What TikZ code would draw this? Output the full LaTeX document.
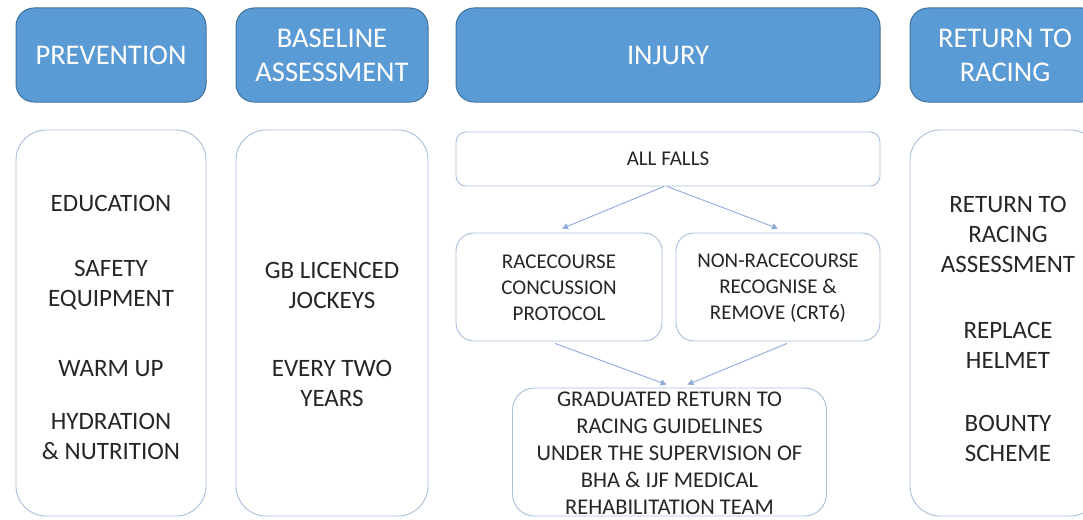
\documentclass[tikz,border=0pt]{standalone}
\usepackage{fontspec}
\setmainfont{Carlito}
\usetikzlibrary{arrows.meta}
\definecolor{hdrfill}{HTML}{5B9BD5}
\definecolor{hdrline}{HTML}{41719C}
\definecolor{boxline}{HTML}{A9BEDA}
\definecolor{arrowc}{HTML}{8EAADB}
\definecolor{txt}{HTML}{262626}
\begin{document}
\begin{tikzpicture}[x=1pt,y=-1pt,
  header/.style={draw=hdrline, line width=1pt, fill=hdrfill, rounded corners=18pt,
    text=white, align=center, font=\fontsize{28.5}{34}\selectfont, inner sep=0pt},
  panel/.style={draw=boxline, line width=0.9pt, fill=white, rounded corners=30pt, inner sep=0pt},
  subbox/.style={draw=boxline, line width=0.9pt, fill=white, rounded corners=18pt, inner sep=0pt},
  item/.style={text=txt, align=center, inner sep=0pt, font=\fontsize{25}{30}\selectfont},
  subtext/.style={text=txt, align=center, inner sep=0pt, font=\fontsize{21}{26}\selectfont},
  gradtext/.style={text=txt, align=center, inner sep=0pt, font=\fontsize{22.5}{27}\selectfont},
  conn/.style={draw=arrowc, line width=0.9pt, -{Triangle[length=6pt,width=6pt]}}
]
\useasboundingbox (0,0) rectangle (1083,519);
\clip (0,0) rectangle (1083,519);

% column headers
\node[header, minimum width=190pt, minimum height=94pt] (hprev) at (111,55) {PREVENTION};
\node[header, minimum width=192pt, minimum height=94pt] (hbase) at (332,55) {BASELINE\\ASSESSMENT};
\node[header, minimum width=424pt, minimum height=94pt] (hinj) at (668,55) {INJURY};
\node[header, minimum width=190pt, minimum height=94pt] (hret) at (1005,55) {RETURN TO\\RACING};

% column panels
\node[panel, minimum width=190pt, minimum height=386pt] (pprev) at (111,323) {};
\node[panel, minimum width=192pt, minimum height=386pt] (pbase) at (332,323) {};
\node[panel, minimum width=190pt, minimum height=386pt] (pret) at (1005,323) {};

% prevention items
\node[item] (edu) at (111,203) {EDUCATION};
\node[item] (safe) at (111,285) {SAFETY\\EQUIPMENT};
\node[item] (warm) at (111,369) {WARM UP};
\node[item] (hyd) at (111,436) {HYDRATION\\\& NUTRITION};

% baseline items
\node[item] (gb) at (332,285) {GB LICENCED\\JOCKEYS};
\node[item] (every) at (332,383) {EVERY TWO\\YEARS};

% return to racing items
\node[item] (rtr) at (1008,234) {RETURN TO\\RACING\\ASSESSMENT};
\node[item] (helm) at (1008,345) {REPLACE\\HELMET};
\node[item] (bounty) at (1008,438) {BOUNTY\\SCHEME};

% injury pathway
\node[subbox, rounded corners=10pt, minimum width=424pt, minimum height=54pt] (falls) at (668,159) {};
\node[subtext] (fallst) at (668,159) {ALL FALLS};
\node[subbox, minimum width=206pt, minimum height=108pt] (race) at (559,287) {};
\node[subtext] (racet) at (559,288) {RACECOURSE\\CONCUSSION\\PROTOCOL};
\node[subbox, minimum width=204pt, minimum height=108pt] (nonrace) at (778,287) {};
\node[subtext] (nonracet) at (778,288) {NON-RACECOURSE\\RECOGNISE \&\\REMOVE (CRT6)};
\node[subbox, rounded corners=22pt, minimum width=314pt, minimum height=128pt] (grad) at (669.5,452) {};
\node[gradtext] (gradt) at (669.5,453) {GRADUATED RETURN TO\\RACING GUIDELINES\\UNDER THE SUPERVISION OF\\BHA \& IJF MEDICAL\\REHABILITATION TEAM};

% connectors
\draw[conn] ([xshift=-4pt]falls.south) -- ([xshift=3pt,yshift=4pt]race.north);
\draw[conn] ([xshift=-1pt]falls.south) -- ([yshift=4pt]nonrace.north);
\draw[conn] ([xshift=-4pt,yshift=-2pt]race.south) -- ([xshift=-3pt,yshift=3pt]grad.north);
\draw[conn] ([xshift=9pt,yshift=-2pt]nonrace.south) -- ([xshift=18pt,yshift=3pt]grad.north);
\end{tikzpicture}
\end{document}
